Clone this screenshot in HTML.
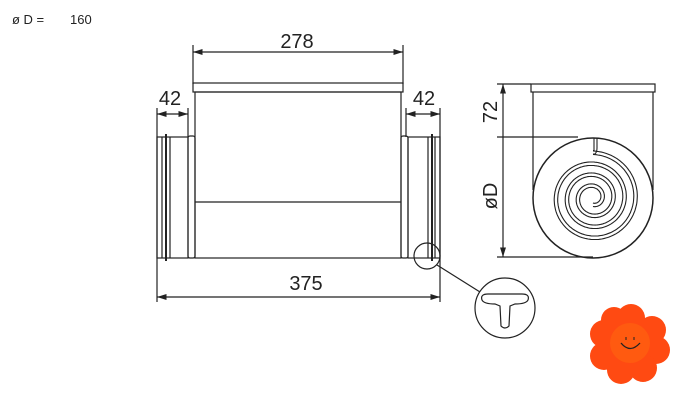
<!DOCTYPE html>
<html><head><meta charset="utf-8"><style>
body{margin:0;background:#fff;width:693px;height:402px;overflow:hidden}
svg{display:block}
text{font-family:"Liberation Sans",sans-serif;fill:#222}
</style></head><body>
<svg id="s" width="693" height="402" viewBox="0 0 693 402" xmlns="http://www.w3.org/2000/svg">
<defs><marker id="a" markerWidth="8" markerHeight="6" refX="8" refY="3" orient="auto-start-reverse"><path d="M0,0.5 L8,3 L0,5.5z" fill="#222"/></marker></defs>
<text x="12" y="24" font-size="13">ø D =</text><text x="70" y="24" font-size="13">160</text>
<g stroke="#222" fill="none" stroke-width="1.2">
<line x1="193" y1="45" x2="193" y2="84"/><line x1="403" y1="45" x2="403" y2="84"/>
<line x1="157" y1="108" x2="157" y2="302"/><line x1="440" y1="108" x2="440" y2="302"/>
<line x1="188" y1="108" x2="188" y2="137"/><line x1="406" y1="108" x2="406" y2="137"/>
<line x1="193" y1="52" x2="403" y2="52" marker-start="url(#a)" marker-end="url(#a)"/>
<line x1="157" y1="114" x2="188" y2="114" marker-start="url(#a)" marker-end="url(#a)"/>
<line x1="406" y1="114" x2="440" y2="114" marker-start="url(#a)" marker-end="url(#a)"/>
<line x1="157" y1="297" x2="440" y2="297" marker-start="url(#a)" marker-end="url(#a)"/>
<rect x="193" y="83" width="210" height="9"/>
<rect x="195" y="92" width="206" height="166"/>
<line x1="195" y1="202" x2="401" y2="202"/>
<rect x="188" y="136" width="7" height="122" rx="2"/>
<rect x="401" y="136" width="7" height="122" rx="2"/>
<rect x="157" y="137" width="31" height="121"/>
<rect x="408" y="137" width="32" height="121"/>
<line x1="162" y1="137" x2="162" y2="258"/><line x1="166" y1="134" x2="166" y2="261" stroke-width="2"/><line x1="170" y1="137" x2="170" y2="258"/>
<line x1="428" y1="137" x2="428" y2="258"/><line x1="432" y1="134" x2="432" y2="261" stroke-width="2"/><line x1="435" y1="137" x2="435" y2="258"/>
<circle cx="427" cy="256" r="13"/>
<line x1="437" y1="265" x2="480" y2="292"/>
<rect x="531" y="84" width="124" height="8"/>
<line x1="533" y1="92" x2="533" y2="190"/><line x1="653" y1="92" x2="653" y2="190"/>
<line x1="503" y1="84" x2="503" y2="257" marker-start="url(#a)" marker-end="url(#a)"/>
<line x1="497" y1="84" x2="531" y2="84"/>
<line x1="497" y1="137" x2="578" y2="137"/><line x1="497" y1="257" x2="593" y2="257"/>
<circle cx="593" cy="198" r="60" stroke-width="1.5"/>
<path id="sp" stroke-width="1.1"/>
<circle cx="505" cy="308" r="30"/>
<path d="M482,300 Q480,294 488,294 L522,294 Q530,294 528,300 Q526,304 515,304 L510,306 L509,326 Q505,330 501,326 L500,306 L495,304 Q484,304 482,300z"/>
</g>
<text x="297" y="48" font-size="20" text-anchor="middle">278</text>
<text x="170" y="105" font-size="20" text-anchor="middle">42</text>
<text x="424" y="105" font-size="20" text-anchor="middle">42</text>
<text x="306" y="290" font-size="20" text-anchor="middle">375</text>
<text font-size="20" text-anchor="middle" transform="translate(497,112) rotate(-90)">72</text>
<text font-size="20" text-anchor="middle" transform="translate(497,196) rotate(-90)">øD</text>
<g fill="#ff4a12">
<circle cx="631" cy="318" r="14"/><circle cx="652" cy="330" r="14"/><circle cx="656" cy="350" r="14"/><circle cx="643" cy="368" r="14"/><circle cx="621" cy="370" r="14"/><circle cx="604" cy="356" r="14"/><circle cx="604" cy="334" r="14"/><circle cx="614" cy="320" r="13"/>
<circle cx="630" cy="343" r="20" fill="#ff5a10"/>
</g>
<path d="M621,343 Q630,354 640,343" stroke="#222" stroke-width="1.3" fill="none"/>
<line x1="626" y1="337" x2="626" y2="340" stroke="#222"/><line x1="634" y1="337" x2="634" y2="340" stroke="#222"/>
</svg>
<script>
var cx=593,cy=198,d1="",d2="",P=Math.PI,N=600;
for(var i=0;i<=N;i++){var t=1.5*P+i/N*7*P;var r=5+11*(t-1.5*P)/(2*P);
var a=-t;var x1=cx+r*Math.cos(a),y1=cy+r*Math.sin(a),x2=cx+(r+3.5)*Math.cos(a),y2=cy+(r+3.5)*Math.sin(a);
d1+=(i?"L":"M")+x1.toFixed(1)+","+y1.toFixed(1);d2+=(i?"L":"M")+x2.toFixed(1)+","+y2.toFixed(1);}
var end="M593,154 L595,154 Q597,152 597,148 L597,138 M593,150.5 L594,150.5 Q594,149 594,147 L594,138";
document.getElementById("sp").setAttribute("d",d1+d2+end);
</script>
</body></html>
